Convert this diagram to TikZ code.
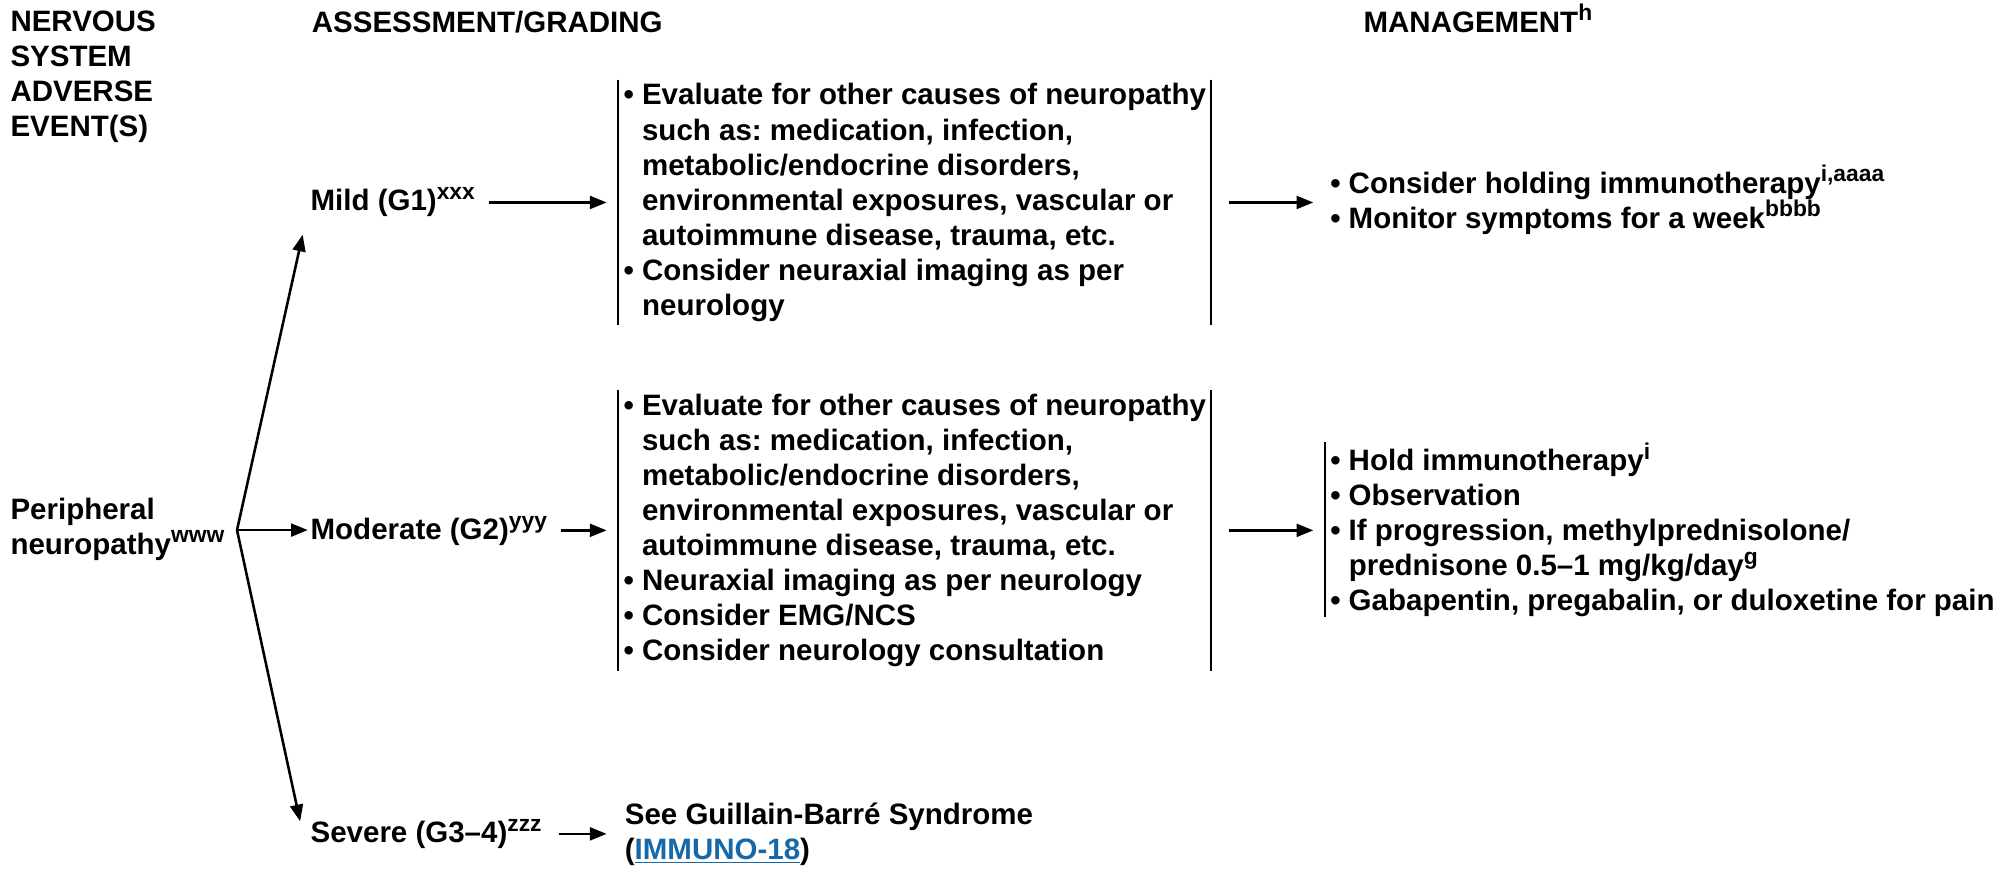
\documentclass[tikz,border=0pt]{standalone}
\usepackage{fontspec}
\setmainfont{Liberation Sans}
\usetikzlibrary{arrows.meta}
\definecolor{linkblue}{RGB}{22,104,168}
\newcommand{\bindent}{\hphantom{\textbullet\ }}
\newcommand{\supr}[1]{\raisebox{9pt}{\fontsize{17.8}{17.8}\selectfont #1}}
\newcommand{\linkul}[1]{\textcolor{linkblue}{\setbox0\hbox{#1}\rlap{\rule[-2.8pt]{\wd0}{1.4pt}}\box0}}
\frenchspacing

\begin{document}
\begin{tikzpicture}[x=1pt,y=-1pt,
    every node/.style={inner sep=0pt,font=\fontsize{23}{27.3}\selectfont\bfseries},
    lbl/.style={anchor=base west},
    list/.style={anchor=north west,align=left},
    box/.style={anchor=north west,align=left,inner xsep=4pt,inner ysep=3pt},
    bar/.style={line width=1.6pt},
    arr/.style={line width=2pt,-{Triangle[length=13pt,width=10pt]}},
]
\useasboundingbox (0,0) rectangle (1568,679);

\node[list] (hdrevent) at (8,8) {NERVOUS\\SYSTEM\\ADVERSE\\EVENT(S)};
\node[lbl] (hdrgrade) at (243,25) {ASSESSMENT/GRADING};
\node[lbl] (hdrmgmt) at (1063,25) {MANAGEMENT\supr{h}};

\node[list] (pn) at (8,388) {Peripheral\\neuropathy\supr{www}};
\coordinate (br) at (184.8,413.3);

\node[lbl] (mild) at (242,164.5) {Mild (G1)\supr{xxx}};
\node[lbl] (mod) at (242,421) {Moderate (G2)\supr{yyy}};
\node[lbl] (sev) at (242,657) {Severe (G3–4)\supr{zzz}};

\node[box] (mildbox) at (482,62) {\textbullet\ Evaluate for other causes of neuropathy\\
    \bindent such as: medication, infection,\\
    \bindent metabolic/endocrine disorders,\\
    \bindent environmental exposures, vascular or\\
    \bindent autoimmune disease, trauma, etc.\\
    \textbullet\ Consider neuraxial imaging as per\\
    \bindent neurology};
\node[box] (modbox) at (482,304) {\textbullet\ Evaluate for other causes of neuropathy\\
    \bindent such as: medication, infection,\\
    \bindent metabolic/endocrine disorders,\\
    \bindent environmental exposures, vascular or\\
    \bindent autoimmune disease, trauma, etc.\\
    \textbullet\ Neuraxial imaging as per neurology\\
    \textbullet\ Consider EMG/NCS\\
    \textbullet\ Consider neurology consultation};
\node[list] (gbs) at (487,626) {See Guillain-Barré Syndrome\\
    (\linkul{IMMUNO-18})};

\node[list,inner xsep=4pt] (mildmgmt) at (1033,128.5) {\textbullet\ Consider holding immunotherapy\supr{i,aaaa}\\
    \textbullet\ Monitor symptoms for a week\supr{bbbb}};
\node[list,inner xsep=4pt] (modmgmt) at (1033,345) {\textbullet\ Hold immunotherapy\supr{i}\\
    \textbullet\ Observation\\
    \textbullet\ If progression, methylprednisolone/\\
    \bindent prednisone 0.5–1 mg/kg/day\supr{g}\\
    \textbullet\ Gabapentin, pregabalin, or duloxetine for pain};

\draw[bar] (mildbox.north west) -- (mildbox.south west);
\draw[bar] (mildbox.north east) -- (mildbox.south east);
\draw[bar] (modbox.north west) -- (modbox.south west);
\draw[bar] (modbox.north east) -- (modbox.south east);
\draw[bar] (modmgmt.north west) -- (modmgmt.south west);

\draw[arr] (br) -- ([xshift=-6pt,yshift=-13.5pt]mild.south west);
\draw[arr,shorten >=2pt] (br) -- (br -| mod.west);
\draw[arr] (br) -- ([xshift=-8pt,yshift=-2pt]sev.north west);
\draw[arr,shorten <=11pt,shorten >=9pt] (mild.east |- mildbox.west) -- (mildbox.west);
\draw[arr,shorten <=11pt,shorten >=9pt] (mod.east |- modbox.west) -- (modbox.west);
\draw[arr,shorten <=13pt,shorten >=14pt] (sev.east) -- (sev.east -| gbs.west);
\draw[arr,shorten <=14pt,shorten >=9pt] (mildbox.east) -- (mildbox.east -| mildmgmt.west);
\draw[arr,shorten <=14pt,shorten >=9pt] (modbox.east) -- (modbox.east -| modmgmt.west);
\end{tikzpicture}
\end{document}
